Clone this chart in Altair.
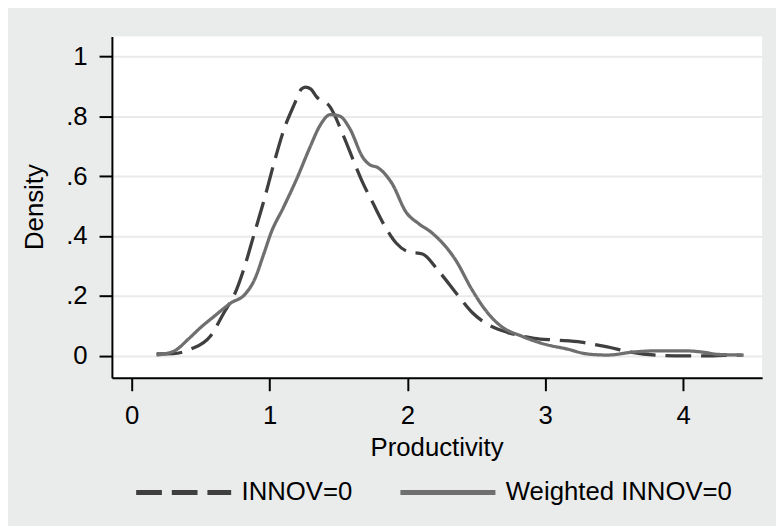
import altair as alt
import pandas as pd

# INNOV=0 (dashed)
x_innov = [0.18, 0.30, 0.43, 0.57, 0.67, 0.75, 0.82, 0.89, 0.96, 1.03, 1.10, 1.18, 1.23, 1.26,
           1.30, 1.34, 1.44, 1.54, 1.61, 1.68, 1.75, 1.84, 1.92, 2.01, 2.11, 2.22, 2.37, 2.47,
           2.58, 2.73, 2.92, 3.07, 3.26, 3.45, 3.62, 3.80, 4.00, 4.16, 4.30, 4.43]
y_innov = [0.007, 0.008, 0.023, 0.066, 0.145, 0.21, 0.30, 0.41, 0.52, 0.64, 0.75, 0.84, 0.89, 0.897,
           0.89, 0.865, 0.83, 0.73, 0.65, 0.574, 0.51, 0.43, 0.376, 0.347, 0.34, 0.287, 0.20, 0.145,
           0.106, 0.078, 0.059, 0.053, 0.046, 0.03, 0.013, 0.003, 0.0, 0.0, 0.002, 0.003]

# Weighted INNOV=0 (solid)
x_weighted = [0.18, 0.31, 0.41, 0.50, 0.60, 0.72, 0.82, 0.89, 0.96, 1.01, 1.10, 1.20, 1.29, 1.37,
              1.44, 1.51, 1.58, 1.68, 1.72, 1.79, 1.89, 1.99, 2.08, 2.18, 2.35, 2.47, 2.58, 2.68,
              2.83, 2.99, 3.16, 3.30, 3.45, 3.64, 3.80, 4.02, 4.14, 4.26, 4.44]
y_weighted = [0.003, 0.017, 0.056, 0.095, 0.133, 0.177, 0.205, 0.254, 0.343, 0.41, 0.495, 0.594, 0.693, 0.772,
              0.805, 0.80, 0.76, 0.66, 0.64, 0.627, 0.574, 0.48, 0.442, 0.41, 0.32, 0.22, 0.145, 0.099,
              0.066, 0.04, 0.023, 0.007, 0.003, 0.013, 0.017, 0.017, 0.013, 0.005, 0.003]

series_names = ["INNOV=0", "Weighted INNOV=0"]
x_ticks = [0, 1, 2, 3, 4]
y_ticks = [0, 0.2, 0.4, 0.6, 0.8, 1]

df = pd.concat([
    pd.DataFrame({"x": x_innov, "y": y_innov, "series": series_names[0], "order": range(len(x_innov))}),
    pd.DataFrame({"x": x_weighted, "y": y_weighted, "series": series_names[1], "order": range(len(x_weighted))}),
])

FONT = "Liberation Sans"

chart = alt.Chart(df).mark_line(strokeWidth=3.3, interpolate="monotone").encode(
    x=alt.X("x:Q",
            scale=alt.Scale(domain=[-0.144, 4.574], nice=False, zero=False),
            axis=alt.Axis(values=x_ticks, format="d", grid=False, title="Productivity",
                          domainColor="black", domainWidth=2, tickColor="black", tickWidth=2,
                          tickSize=13, labelFontSize=26, labelFont=FONT, labelColor="black",
                          labelPadding=12, titleFont=FONT, titleFontSize=26,
                          titleFontWeight="normal", titleColor="black",
                          titleX=328, titleY=70, titleBaseline="middle", titleAlign="center")),
    y=alt.Y("y:Q",
            scale=alt.Scale(domain=[-0.073, 1.066], nice=False, zero=False),
            axis=alt.Axis(values=y_ticks,
                          labelExpr="datum.value == 0 ? '0' : datum.value == 1 ? '1' : replace(format(datum.value, '.1f'), '0.', '.')",
                          grid=True, gridColor="#EAEAEA", gridWidth=2, title="Density",
                          domainColor="black", domainWidth=2, tickColor="black", tickWidth=2,
                          tickSize=13, labelFontSize=26, labelFont=FONT, labelColor="black",
                          labelPadding=12, titleFont=FONT, titleFontSize=26,
                          titleFontWeight="normal", titleColor="black",
                          titleX=-78, titleY=172, titleAngle=270, titleAlign="center",
                          titleBaseline="middle")),
    color=alt.Color("series:N",
                    scale=alt.Scale(domain=series_names, range=["#3F3F3F", "#6F6F6F"]),
                    legend=alt.Legend(orient="none", legendX=22, legendY=410, direction="horizontal",
                                      title=None, symbolType="stroke", symbolSize=9216,
                                      symbolStrokeWidth=5, labelFontSize=26, labelFont=FONT,
                                      labelColor="black", labelOffset=8, columnPadding=38,
                                      labelLimit=400, padding=0)),
    strokeDash=alt.StrokeDash("series:N",
                              scale=alt.Scale(domain=series_names, range=[[26, 10], [1, 0]]),
                              legend=None),
    order="order:Q",
).properties(
    width=657,
    height=345,
    background="#EAEBEB",
    padding={"left": 105, "top": 26, "right": 14, "bottom": 147},
    autosize=alt.AutoSizeParams(type="none"),
).configure_view(
    fill="white",
    stroke=None,
)

chart.save("out.html", embed_options={"renderer": "svg", "actions": False})
